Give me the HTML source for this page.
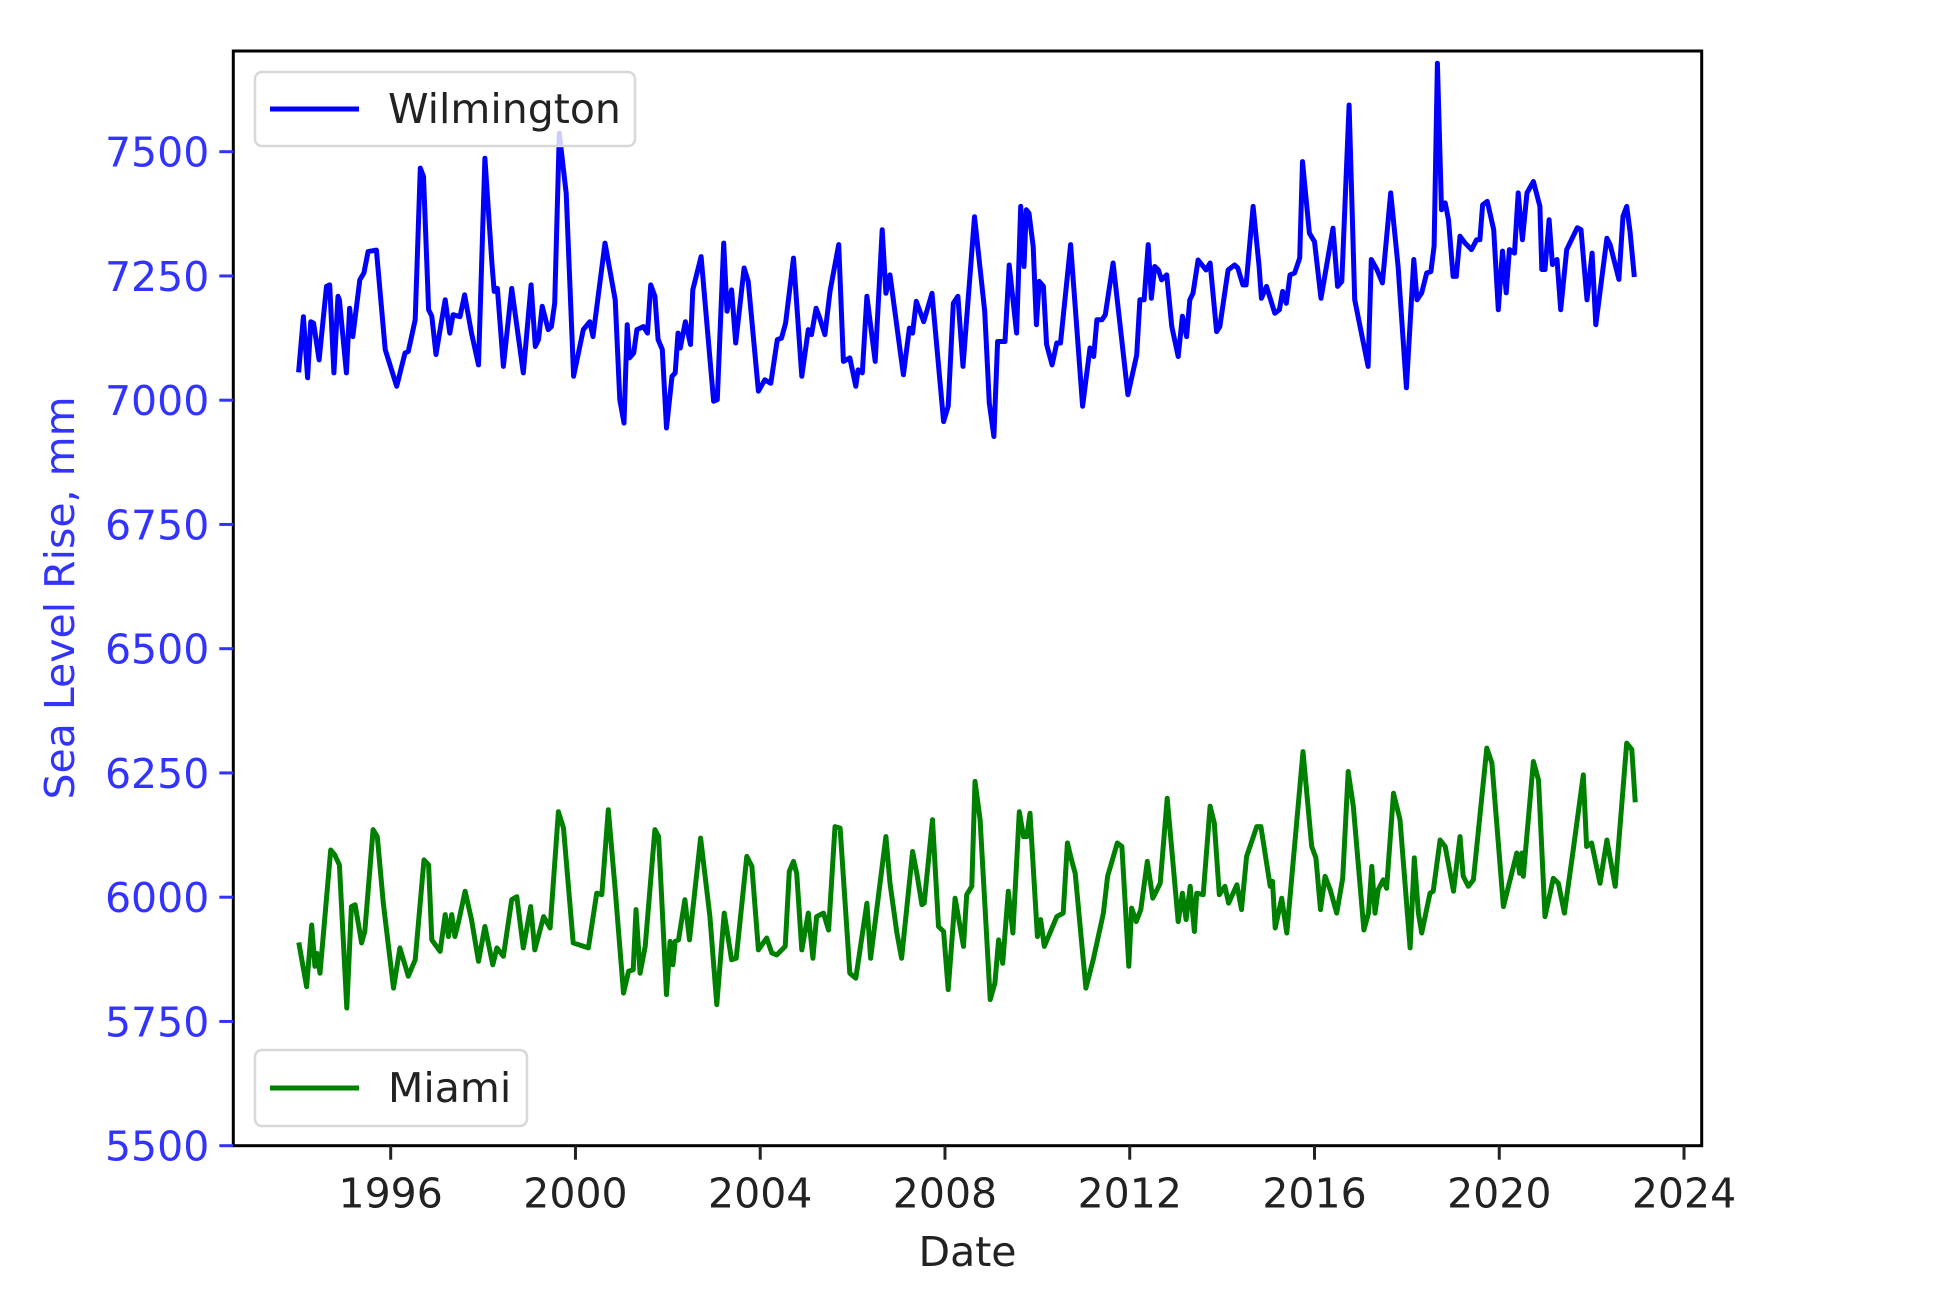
<!DOCTYPE html>
<html><head><meta charset="utf-8">
<style>
html,body{margin:0;padding:0;background:#fff;}
svg{display:block;font-family:"DejaVu Sans","Liberation Sans",sans-serif;}
</style></head>
<body>
<svg id="chart" width="1935" height="1315" viewBox="0 0 1935 1315" xmlns="http://www.w3.org/2000/svg">
<rect x="0" y="0" width="1935" height="1315" fill="#fff"/>
<g id="plot"></g>
<g id="axes"></g>
</svg>
<script>
const wilmDates=[1994.01,1994.11,1994.20,1994.27,1994.33,1994.45,1994.61,1994.68,1994.77,1994.86,1994.89,1995.04,1995.11,1995.18,1995.33,1995.42,1995.51,1995.69,1995.88,1996.13,1996.31,1996.38,1996.53,1996.64,1996.71,1996.82,1996.89,1996.98,1997.07,1997.18,1997.28,1997.35,1997.50,1997.60,1997.75,1997.90,1998.04,1998.19,1998.24,1998.31,1998.44,1998.62,1998.87,1999.04,1999.13,1999.20,1999.28,1999.41,1999.48,1999.55,1999.65,1999.80,1999.96,2000.17,2000.31,2000.38,2000.64,2000.86,2000.96,2001.05,2001.12,2001.17,2001.26,2001.33,2001.47,2001.56,2001.63,2001.72,2001.79,2001.88,2001.97,2002.09,2002.16,2002.22,2002.27,2002.33,2002.38,2002.49,2002.54,2002.72,2002.99,2003.07,2003.21,2003.28,2003.38,2003.47,2003.65,2003.74,2003.96,2004.10,2004.23,2004.37,2004.46,2004.55,2004.72,2004.90,2005.04,2005.11,2005.21,2005.29,2005.40,2005.51,2005.70,2005.80,2005.94,2006.07,2006.12,2006.21,2006.31,2006.49,2006.64,2006.72,2006.81,2006.96,2007.10,2007.23,2007.30,2007.38,2007.54,2007.72,2007.97,2008.07,2008.18,2008.28,2008.39,2008.64,2008.86,2008.96,2009.06,2009.14,2009.30,2009.39,2009.55,2009.64,2009.71,2009.76,2009.82,2009.91,2009.98,2010.04,2010.13,2010.20,2010.32,2010.42,2010.50,2010.72,2010.98,2011.14,2011.22,2011.29,2011.40,2011.47,2011.64,2011.96,2012.15,2012.22,2012.31,2012.40,2012.47,2012.54,2012.62,2012.69,2012.80,2012.91,2013.05,2013.14,2013.23,2013.30,2013.37,2013.48,2013.65,2013.74,2013.88,2013.95,2014.13,2014.27,2014.34,2014.45,2014.52,2014.67,2014.80,2014.85,2014.96,2015.14,2015.24,2015.31,2015.39,2015.47,2015.57,2015.68,2015.74,2015.89,2016.00,2016.14,2016.40,2016.50,2016.59,2016.75,2016.87,2017.16,2017.23,2017.35,2017.47,2017.65,2017.81,2017.99,2018.15,2018.22,2018.32,2018.43,2018.52,2018.59,2018.66,2018.75,2018.83,2018.90,2019.00,2019.07,2019.15,2019.26,2019.40,2019.51,2019.58,2019.64,2019.74,2019.88,2019.98,2020.07,2020.15,2020.22,2020.33,2020.41,2020.50,2020.60,2020.74,2020.88,2020.92,2020.99,2021.08,2021.15,2021.25,2021.33,2021.46,2021.69,2021.77,2021.90,2022.01,2022.09,2022.33,2022.40,2022.59,2022.68,2022.76,2022.83,2022.92];
const wilmValues=[7061,7168,7045,7158,7155,7081,7229,7232,7055,7209,7202,7055,7185,7128,7242,7256,7299,7302,7102,7028,7095,7098,7162,7467,7450,7182,7169,7092,7142,7202,7135,7172,7168,7212,7135,7071,7487,7276,7219,7225,7068,7225,7055,7232,7108,7122,7189,7142,7148,7195,7537,7416,7048,7142,7158,7128,7316,7202,7001,6954,7152,7085,7095,7142,7148,7135,7232,7209,7122,7102,6944,7048,7055,7135,7105,7135,7158,7112,7222,7289,6998,7001,7316,7179,7222,7115,7266,7239,7018,7041,7034,7122,7125,7155,7286,7048,7142,7132,7185,7165,7132,7219,7313,7078,7085,7028,7061,7055,7209,7078,7343,7215,7252,7148,7051,7145,7135,7199,7158,7215,6957,6988,7195,7209,7068,7369,7179,6994,6927,7118,7118,7272,7135,7390,7269,7383,7376,7309,7152,7239,7229,7112,7071,7115,7115,7313,6988,7105,7088,7162,7162,7172,7276,7011,7091,7202,7202,7313,7205,7269,7262,7242,7252,7148,7088,7169,7128,7202,7215,7282,7262,7276,7138,7148,7262,7272,7266,7232,7232,7390,7269,7205,7229,7175,7182,7219,7195,7252,7256,7286,7480,7336,7319,7205,7346,7229,7239,7594,7202,7068,7283,7263,7236,7417,7269,7025,7283,7202,7216,7256,7259,7310,7678,7383,7397,7363,7249,7249,7330,7316,7303,7323,7323,7393,7400,7343,7182,7300,7216,7303,7296,7417,7323,7417,7440,7390,7263,7263,7363,7273,7283,7182,7303,7347,7343,7202,7296,7152,7326,7313,7243,7370,7390,7340,7253];
const miamiDates=[1994.02,1994.18,1994.29,1994.36,1994.40,1994.47,1994.70,1994.79,1994.89,1995.05,1995.15,1995.23,1995.37,1995.44,1995.62,1995.71,1995.84,1996.06,1996.20,1996.38,1996.53,1996.72,1996.82,1996.89,1997.07,1997.18,1997.25,1997.32,1997.39,1997.47,1997.61,1997.75,1997.90,1998.04,1998.21,1998.30,1998.44,1998.62,1998.73,1998.87,1999.03,1999.12,1999.31,1999.45,1999.63,1999.74,1999.95,2000.28,2000.46,2000.57,2000.71,2000.86,2001.04,2001.15,2001.25,2001.31,2001.40,2001.51,2001.72,2001.80,2001.97,2002.05,2002.11,2002.16,2002.23,2002.37,2002.47,2002.71,2002.91,2003.06,2003.22,2003.38,2003.48,2003.71,2003.82,2003.96,2004.14,2004.25,2004.36,2004.54,2004.63,2004.72,2004.79,2004.90,2005.04,2005.14,2005.22,2005.37,2005.48,2005.62,2005.73,2005.94,2006.07,2006.31,2006.39,2006.72,2006.81,2006.96,2007.06,2007.30,2007.39,2007.50,2007.55,2007.73,2007.86,2007.97,2008.07,2008.22,2008.40,2008.47,2008.58,2008.65,2008.76,2008.98,2009.08,2009.16,2009.25,2009.37,2009.47,2009.61,2009.70,2009.77,2009.84,2010.00,2010.07,2010.15,2010.42,2010.56,2010.65,2010.74,2010.82,2011.05,2011.21,2011.43,2011.52,2011.57,2011.73,2011.83,2011.98,2012.04,2012.14,2012.24,2012.38,2012.50,2012.66,2012.81,2013.05,2013.14,2013.22,2013.31,2013.40,2013.45,2013.59,2013.74,2013.83,2013.94,2014.06,2014.14,2014.32,2014.42,2014.53,2014.75,2014.84,2015.04,2015.09,2015.15,2015.29,2015.40,2015.75,2015.94,2016.03,2016.13,2016.23,2016.34,2016.48,2016.61,2016.73,2016.84,2017.07,2017.17,2017.24,2017.31,2017.38,2017.49,2017.56,2017.71,2017.85,2018.07,2018.16,2018.25,2018.32,2018.50,2018.57,2018.72,2018.83,2019.01,2019.15,2019.22,2019.33,2019.44,2019.73,2019.84,2020.09,2020.38,2020.44,2020.49,2020.52,2020.74,2020.85,2020.99,2021.17,2021.28,2021.41,2021.60,2021.82,2021.89,2022.00,2022.18,2022.33,2022.51,2022.76,2022.87,2022.94];
const miamiValues=[5904,5820,5944,5861,5887,5847,6095,6085,6065,5777,5981,5985,5908,5931,6136,6122,5988,5817,5898,5841,5874,6075,6065,5914,5891,5965,5921,5965,5921,5951,6012,5955,5871,5941,5864,5898,5881,5995,6001,5898,5981,5894,5961,5938,6172,6139,5908,5898,6008,6005,6176,6015,5807,5851,5854,5975,5847,5901,6136,6122,5804,5911,5864,5911,5914,5995,5914,6119,5961,5784,5968,5874,5877,6082,6062,5894,5918,5888,5884,5901,6052,6072,6048,5894,5968,5877,5961,5968,5934,6142,6139,5847,5837,5988,5877,6122,6028,5928,5877,6092,6048,5985,5988,6156,5941,5931,5814,5998,5901,6005,6022,6233,6156,5794,5827,5914,5867,6012,5928,6172,6122,6122,6169,5921,5955,5901,5961,5968,6109,6075,6048,5817,5874,5968,6042,6058,6109,6102,5861,5978,5951,5975,6072,5998,6028,6199,5951,6008,5955,6022,5931,6008,6005,6183,6149,6005,6022,5988,6025,5975,6082,6142,6142,6022,6032,5938,5998,5928,6293,6102,6079,5975,6042,6015,5968,6038,6253,6183,5934,5968,6062,5968,6015,6035,6018,6209,6156,5898,6079,5968,5928,6008,6012,6115,6102,6012,6122,6042,6022,6035,6300,6270,5981,6089,6048,6089,6042,6273,6236,5961,6038,6028,5968,6095,6246,6102,6109,6028,6115,6022,6310,6297,6196];
const yTicks=[5500,5750,6000,6250,6500,6750,7000,7250,7500];
const xTicks=[1996,2000,2004,2008,2012,2016,2020,2024];

const NS='http://www.w3.org/2000/svg';
const L=233.3,R=1701.7,T=51,B=1145.7;
const yMin=5500,yMax=7702.6,xRef=1996,xRefPx=390.7,pxPerYear=46.19;
function xs(d){return xRefPx+(d-xRef)*pxPerYear;}
function ys(v){return B-(v-yMin)/(yMax-yMin)*(B-T);}
function mk(tag,attrs,parent){const e=document.createElementNS(NS,tag);for(const k in attrs)e.setAttribute(k,attrs[k]);parent.appendChild(e);return e;}
const plot=document.getElementById('plot');
const axes=document.getElementById('axes');

function series(dates,vals,color,name){
  let d='';
  for(let i=0;i<dates.length;i++){d+=(i?'L':'M')+xs(dates[i]).toFixed(1)+','+ys(vals[i]).toFixed(1);}
  const p=mk('path',{d:d,fill:'none',stroke:color,'stroke-width':5,'stroke-linejoin':'round','stroke-linecap':'square'},plot);
  
  
}
series(wilmDates,wilmValues,'#0000ff','wilmington-line');
series(miamiDates,miamiValues,'#008000','miami-line');

const fr=mk('rect',{x:L,y:T,width:R-L,height:B-T,fill:'none',stroke:'#000','stroke-width':3},axes);



yTicks.forEach(v=>{
  const y=ys(v);
  const t=mk('line',{x1:L-14,x2:L,y1:y,y2:y,stroke:'#3333ff','stroke-width':3},axes);
  
  
  const tx=mk('text',{x:L-24,y:y+15,'text-anchor':'end','font-size':41,fill:'#3333ff'},axes);
  tx.textContent=v;
  
  
});
xTicks.forEach(v=>{
  const x=xs(v);
  const t=mk('line',{x1:x,x2:x,y1:B,y2:B+14,stroke:'#222','stroke-width':3},axes);
  
  
  const tx=mk('text',{x:x,y:B+62,'text-anchor':'middle','font-size':41,fill:'#222'},axes);
  tx.textContent=v;
  
  
});
const xt=mk('text',{x:(L+R)/2,y:1266,'text-anchor':'middle','font-size':41,fill:'#222'},axes);
xt.textContent='Date';


const yt=mk('text',{x:0,y:0,'text-anchor':'middle','font-size':41,fill:'#3333ff',transform:'translate(74,598) rotate(-90)'},axes);
yt.textContent='Sea Level Rise, mm';



function legend(x,y,w,h,color,label,name){
  const g=mk('g',{},axes);
  
  
  mk('rect',{x:x,y:y,width:w,height:h,rx:7,fill:'#fff','fill-opacity':0.8,stroke:'#d8d8d8','stroke-width':2.5},g);
  mk('line',{x1:x+15,x2:x+104,y1:y+h/2,y2:y+h/2,stroke:color,'stroke-width':5},g);
  const t=mk('text',{x:x+133,y:y+h/2+14,'font-size':41,fill:'#222'},g);
  t.textContent=label;
}
legend(255,72,380,74,'#0000ff','Wilmington','legend-wilmington');
legend(255,1050,272,76,'#008000','Miami','legend-miami');
</script>
</body></html>
